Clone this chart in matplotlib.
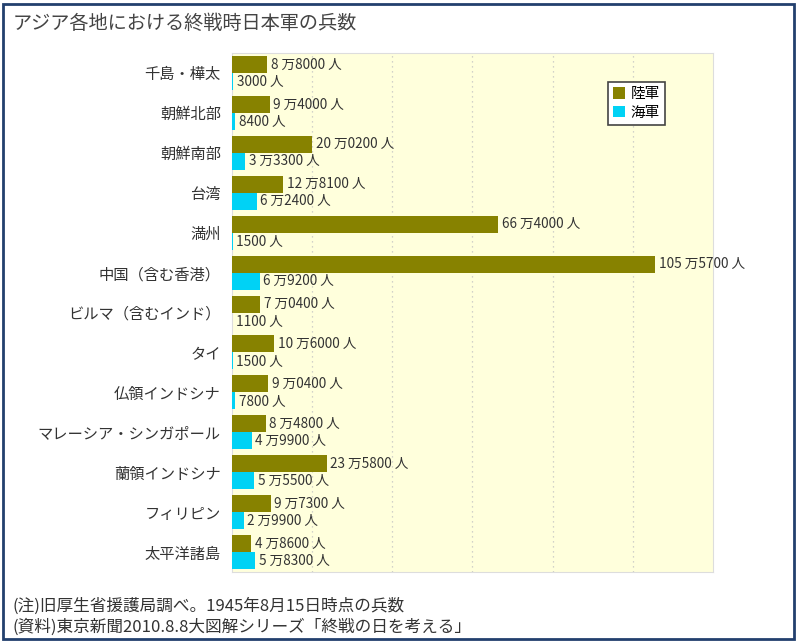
import matplotlib
matplotlib.use("Agg")
import matplotlib.pyplot as plt
import matplotlib.patches as patches
import numpy as np

plt.rcParams['font.family'] = ['Noto Sans CJK JP', 'DejaVu Sans']

regions = ["千島・樺太", "朝鮮北部", "朝鮮南部", "台湾", "満州", "中国（含む香港）",
           "ビルマ（含むインド）", "タイ", "仏領インドシナ", "マレーシア・シンガポール",
           "蘭領インドシナ", "フィリピン", "太平洋諸島"]
army = [88000, 94000, 200200, 128100, 664000, 1055700, 70400, 106000, 90400,
        84800, 235800, 97300, 48600]
navy = [3000, 8400, 33300, 62400, 1500, 69200, 1100, 1500, 7800, 49900,
        55500, 29900, 58300]

army_color = "#878200"
navy_color = "#00d2f5"


def fmt(n):
    man, rest = divmod(n, 10000)
    if man:
        return f"{man} 万{rest:04d} 人"
    return f"{rest} 人"


fig = plt.figure(figsize=(8, 6.42), dpi=100)
ax = fig.add_axes([232/800, 1-572/642, (713-232)/800, (572-53)/642])
ax.set_facecolor("#ffffdc")

y = np.arange(len(regions))
h = 0.425
b1 = ax.barh(y - h/2, army, height=h, color=army_color, label="陸軍", zorder=3)
b2 = ax.barh(y + h/2, navy, height=h, color=navy_color, label="海軍", zorder=3)

for bars, vals in ((b1, army), (b2, navy)):
    for rect, v in zip(bars, vals):
        ax.annotate(fmt(v), (rect.get_width(), rect.get_y() + rect.get_height()/2),
                    xytext=(2.5, 0), textcoords="offset points", va="center", ha="left",
                    fontsize=9.8, color="#333333", zorder=4, annotation_clip=False)

ax.set_xlim(0, 1200000)
ax.set_ylim(len(regions) - 0.5, -0.5)
ax.set_xticks(np.arange(200000, 1200000, 200000))
ax.xaxis.grid(True, linestyle=(0, (1, 3)), color="#c4c4c4", linewidth=0.9, zorder=1)
ax.tick_params(axis="x", length=0, labelbottom=False)
ax.set_yticks(y)
ax.set_yticklabels(regions, fontsize=11, color="#333333")
ax.tick_params(axis="y", length=0, pad=8)
for s in ax.spines.values():
    s.set_color("#dddddd")
    s.set_linewidth(0.8)

leg = ax.legend(loc="upper left", bbox_to_anchor=(608/800, 1-82/642),
                bbox_transform=fig.transFigure, borderaxespad=0, fontsize=10.5,
                handlelength=0.8, handleheight=0.8, handletextpad=0.4,
                labelspacing=0.3, borderpad=0.35, fancybox=False, framealpha=1)
leg.get_frame().set_edgecolor("#444444")
leg.get_frame().set_linewidth(1.2)

fig.text(13/800, 1-23/642, "アジア各地における終戦時日本軍の兵数", fontsize=13.8,
         color="#444444", va="center", ha="left")
fig.text(12/800, 1-606/642, "(注)旧厚生省援護局調べ。1945年8月15日時点の兵数",
         fontsize=12, color="#333333", va="center", ha="left")
fig.text(12/800, 1-627/642, "(資料)東京新聞2010.8.8大図解シリーズ「終戦の日を考える」",
         fontsize=12, color="#333333", va="center", ha="left")

fig.patches.append(patches.Rectangle((3/800, 3/642), 791/800, 635/642,
                                     transform=fig.transFigure, fill=False,
                                     edgecolor="#22406e", linewidth=2))

fig.savefig("out.png", dpi=100)
